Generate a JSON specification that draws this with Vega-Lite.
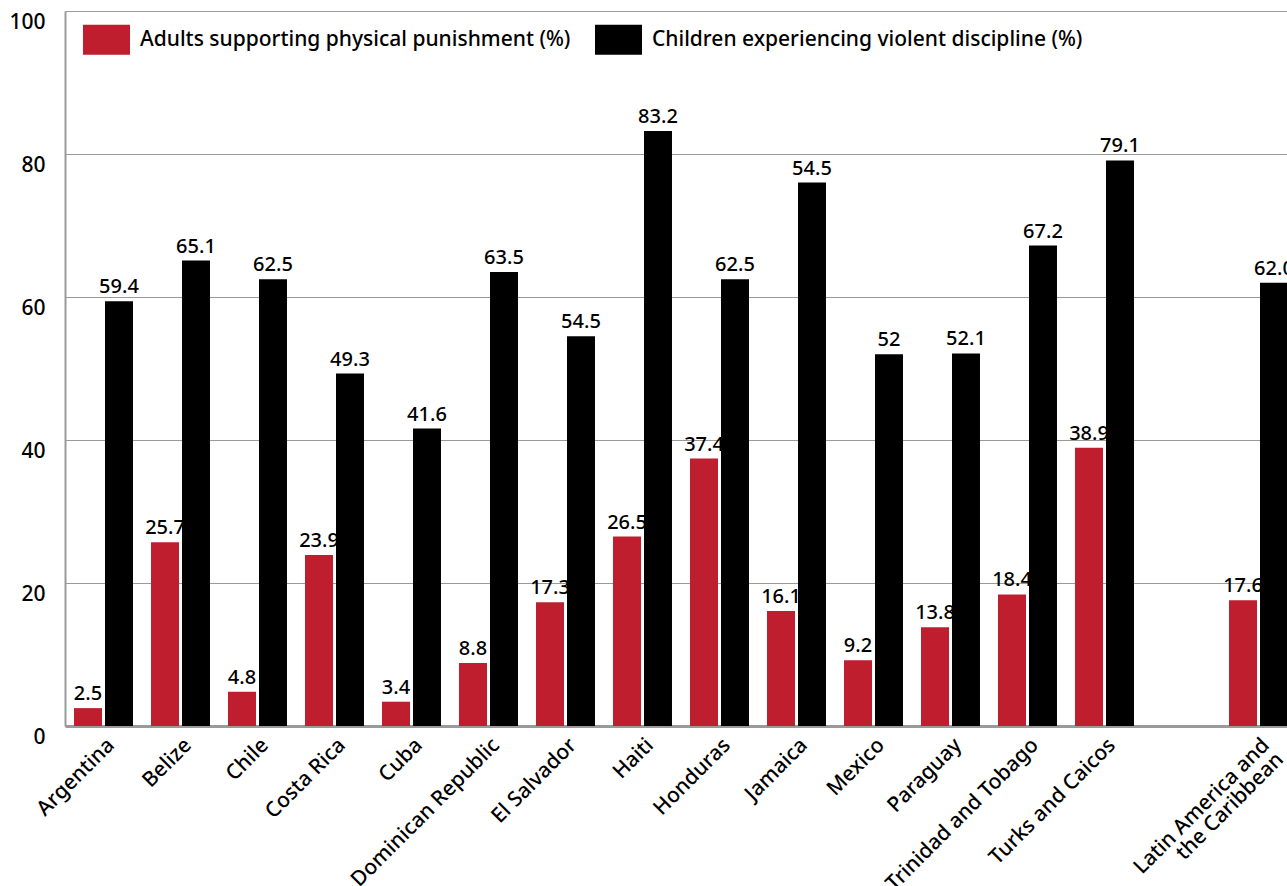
{
  "$schema": "https://vega.github.io/schema/vega-lite/v6.json",
  "autosize": {"type": "none"},
  "width": 1222,
  "height": 715,
  "padding": {"left": 65, "top": 11, "right": 0, "bottom": 160},
  "background": "white",
  "config": {
    "view": {"stroke": null},
    "font": "Noto Sans",
    "text": {"font": "Noto Sans"}
  },
  "data": {
    "values": [
      {"country": "Argentina", "series": "Adults supporting physical punishment (%)", "value": 2.5, "label": "2.5"},
      {"country": "Argentina", "series": "Children experiencing violent discipline (%)", "value": 59.4, "label": "59.4"},
      {"country": "Belize", "series": "Adults supporting physical punishment (%)", "value": 25.7, "label": "25.7"},
      {"country": "Belize", "series": "Children experiencing violent discipline (%)", "value": 65.1, "label": "65.1"},
      {"country": "Chile", "series": "Adults supporting physical punishment (%)", "value": 4.8, "label": "4.8"},
      {"country": "Chile", "series": "Children experiencing violent discipline (%)", "value": 62.5, "label": "62.5"},
      {"country": "Costa Rica", "series": "Adults supporting physical punishment (%)", "value": 23.9, "label": "23.9"},
      {"country": "Costa Rica", "series": "Children experiencing violent discipline (%)", "value": 49.3, "label": "49.3"},
      {"country": "Cuba", "series": "Adults supporting physical punishment (%)", "value": 3.4, "label": "3.4"},
      {"country": "Cuba", "series": "Children experiencing violent discipline (%)", "value": 41.6, "label": "41.6"},
      {"country": "Dominican Republic", "series": "Adults supporting physical punishment (%)", "value": 8.8, "label": "8.8"},
      {"country": "Dominican Republic", "series": "Children experiencing violent discipline (%)", "value": 63.5, "label": "63.5"},
      {"country": "El Salvador", "series": "Adults supporting physical punishment (%)", "value": 17.3, "label": "17.3"},
      {"country": "El Salvador", "series": "Children experiencing violent discipline (%)", "value": 54.5, "label": "54.5"},
      {"country": "Haiti", "series": "Adults supporting physical punishment (%)", "value": 26.5, "label": "26.5"},
      {"country": "Haiti", "series": "Children experiencing violent discipline (%)", "value": 83.2, "label": "83.2"},
      {"country": "Honduras", "series": "Adults supporting physical punishment (%)", "value": 37.4, "label": "37.4"},
      {"country": "Honduras", "series": "Children experiencing violent discipline (%)", "value": 62.5, "label": "62.5"},
      {"country": "Jamaica", "series": "Adults supporting physical punishment (%)", "value": 16.1, "label": "16.1"},
      {"country": "Jamaica", "series": "Children experiencing violent discipline (%)", "value": 76.0, "label": "54.5"},
      {"country": "Mexico", "series": "Adults supporting physical punishment (%)", "value": 9.2, "label": "9.2"},
      {"country": "Mexico", "series": "Children experiencing violent discipline (%)", "value": 52, "label": "52"},
      {"country": "Paraguay", "series": "Adults supporting physical punishment (%)", "value": 13.8, "label": "13.8"},
      {"country": "Paraguay", "series": "Children experiencing violent discipline (%)", "value": 52.1, "label": "52.1"},
      {"country": "Trinidad and Tobago", "series": "Adults supporting physical punishment (%)", "value": 18.4, "label": "18.4"},
      {"country": "Trinidad and Tobago", "series": "Children experiencing violent discipline (%)", "value": 67.2, "label": "67.2"},
      {"country": "Turks and Caicos", "series": "Adults supporting physical punishment (%)", "value": 38.9, "label": "38.9"},
      {"country": "Turks and Caicos", "series": "Children experiencing violent discipline (%)", "value": 79.1, "label": "79.1"},
      {"country": "Latin America and the Caribbean", "series": "Adults supporting physical punishment (%)", "value": 17.6, "label": "17.6"},
      {"country": "Latin America and the Caribbean", "series": "Children experiencing violent discipline (%)", "value": 62.0, "label": "62.0"}
    ]
  },
  "encoding": {
    "x": {
      "field": "country",
      "type": "nominal",
      "scale": {
        "domain": ["Argentina", "Belize", "Chile", "Costa Rica", "Cuba", "Dominican Republic", "El Salvador", "Haiti", "Honduras", "Jamaica", "Mexico", "Paraguay", "Trinidad and Tobago", "Turks and Caicos", " ", "Latin America and the Caribbean"],
        "range": [0, 1232],
        "paddingInner": 0.234,
        "paddingOuter": 0.117
      },
      "axis": {
        "title": null,
        "labelAngle": -45,
        "labelFontSize": 21,
        "labelFontWeight": 500,
        "labelColor": "#000",
        "labelPadding": 8,
        "labelLimit": 400,
        "labelLineHeight": 20,
        "ticks": false,
        "domainColor": "#9a9a9a",
        "domainWidth": 3,
        "grid": false,
        "labelExpr": "datum.value == 'Latin America and the Caribbean' ? ['Latin America and', 'the Caribbean'] : datum.label"
      }
    },
    "xOffset": {
      "field": "series",
      "type": "nominal",
      "scale": {"paddingInner": 0.0968, "paddingOuter": 0}
    },
    "y": {
      "field": "value",
      "type": "quantitative",
      "scale": {"domain": [0, 100], "nice": false},
      "axis": {
        "title": null,
        "values": [0, 20, 40, 60, 80, 100],
        "grid": true,
        "gridColor": "#9a9a9a",
        "gridWidth": 1,
        "domainColor": "#9a9a9a",
        "domainWidth": 2,
        "ticks": false,
        "labelFontSize": 21,
        "labelFontWeight": 500,
        "labelColor": "#000",
        "labelPadding": 20,
        "labelOffset": 11
      }
    }
  },
  "layer": [
    {
      "mark": {"type": "bar"},
      "encoding": {
        "color": {
          "field": "series",
          "type": "nominal",
          "scale": {
            "domain": ["Adults supporting physical punishment (%)", "Children experiencing violent discipline (%)"],
            "range": ["#BE1E2D", "#000000"]
          },
          "legend": {
            "title": null,
            "orient": "none",
            "legendX": 18,
            "legendY": 5,
            "direction": "horizontal",
            "padding": 0,
            "symbolType": "M-1,-0.64H1V0.64H-1Z",
            "symbolSize": 2209,
            "symbolStrokeWidth": 0,
            "symbolOpacity": 1,
            "labelFontSize": 21,
            "labelFontWeight": 500,
            "labelColor": "#000",
            "labelOffset": 10,
            "labelLimit": 600,
            "columnPadding": 24
          }
        }
      }
    },
    {
      "mark": {"type": "text", "baseline": "bottom", "dy": -4, "fontSize": 20, "fontWeight": 500, "color": "#000"},
      "encoding": {
        "text": {"field": "label", "type": "nominal"}
      }
    }
  ]
}
